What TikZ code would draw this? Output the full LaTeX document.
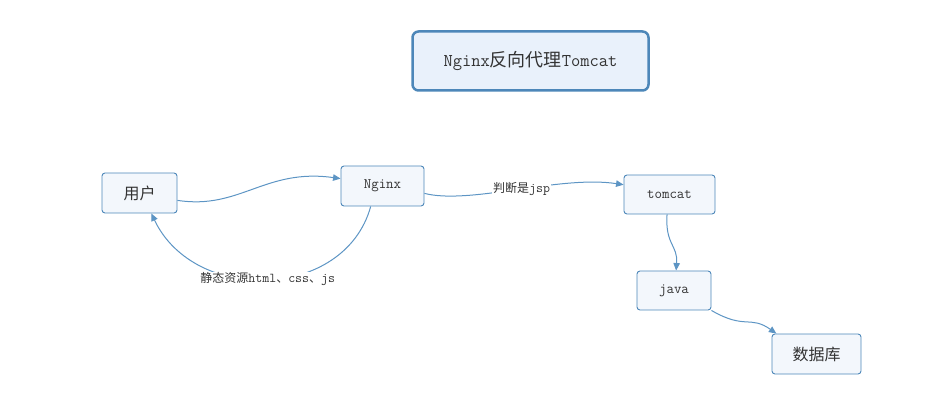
\documentclass[tikz,border=0pt]{standalone}
\usepackage{fontspec}
\newfontfamily\cjk{Noto Sans CJK SC}
\usetikzlibrary{arrows.meta}
\definecolor{boxline}{RGB}{77,135,185}
\definecolor{boxfill}{RGB}{243,247,252}
\definecolor{titlefill}{RGB}{233,241,251}
\definecolor{linkcol}{RGB}{93,149,196}
\definecolor{txt}{RGB}{51,51,51}
\tikzset{>={Triangle[length=7.5pt,width=6.5pt]}}

\begin{document}
\begin{tikzpicture}[x=1pt,y=-1pt,
  box/.style={rectangle,rounded corners=3pt,draw=boxline,fill=boxfill,
    line width=0.9pt,inner sep=0pt,text=txt},
  link/.style={->,draw=linkcol,line width=1pt},
  lbl/.style={fill=white,inner sep=1pt,text=txt,font=\fontsize{13.5}{15}\selectfont}]
\useasboundingbox (0,0) rectangle (927,406);

\node[box,line width=2.5pt,rounded corners=6pt,fill=titlefill,
  minimum width=236pt,minimum height=59pt] (title) at (530.5,61)
  {\fontsize{18}{20}\selectfont\ttfamily Nginx{\cjk\fontsize{18}{20}\selectfont 反向代理}Tomcat};

\node[box,minimum width=75pt,minimum height=40pt] (user) at (139.5,193)
  {\fontsize{16}{18}\selectfont\cjk 用户};
\node[box,minimum width=83pt,minimum height=40pt] (nginx) at (382.5,186)
  {\fontsize{14.5}{16}\selectfont\ttfamily Nginx};
\node[box,minimum width=91pt,minimum height=39pt] (tomcat) at (669.5,194.5)
  {\fontsize{14.5}{16}\selectfont\ttfamily tomcat};
\node[box,minimum width=74pt,minimum height=39pt] (java) at (674,290.5)
  {\fontsize{14.5}{16}\selectfont\ttfamily java};
\node[box,minimum width=89pt,minimum height=40pt] (db) at (816.5,354)
  {\fontsize{16}{18}\selectfont\cjk 数据库};

% request path
\draw[link] (user.-11) .. controls (240,210) and (265,168) .. (nginx.170);
\draw[link] (nginx.-10) .. controls (470,205) and (560,175) ..
  node[lbl,pos=0.52] (jsp) {{\cjk\fontsize{12}{14}\selectfont 判断是}\ttfamily jsp} (tomcat.168);
\draw[link] (tomcat.-97) .. controls (665,245) and (678,245) .. (java.84);
\draw[link] (java.south east) .. controls (745,330) and (750,315) .. (db.153);

% static resources back to the user
\draw[link] (nginx.-120) .. controls (345,300) and (195,305) ..
  node[lbl,pos=0.5] (static) {{\cjk\fontsize{12}{14}\selectfont 静态资源}\ttfamily html{\cjk\fontsize{12}{14}\selectfont 、}css{\cjk\fontsize{12}{14}\selectfont 、}js} (user.-60);
\end{tikzpicture}
\end{document}
